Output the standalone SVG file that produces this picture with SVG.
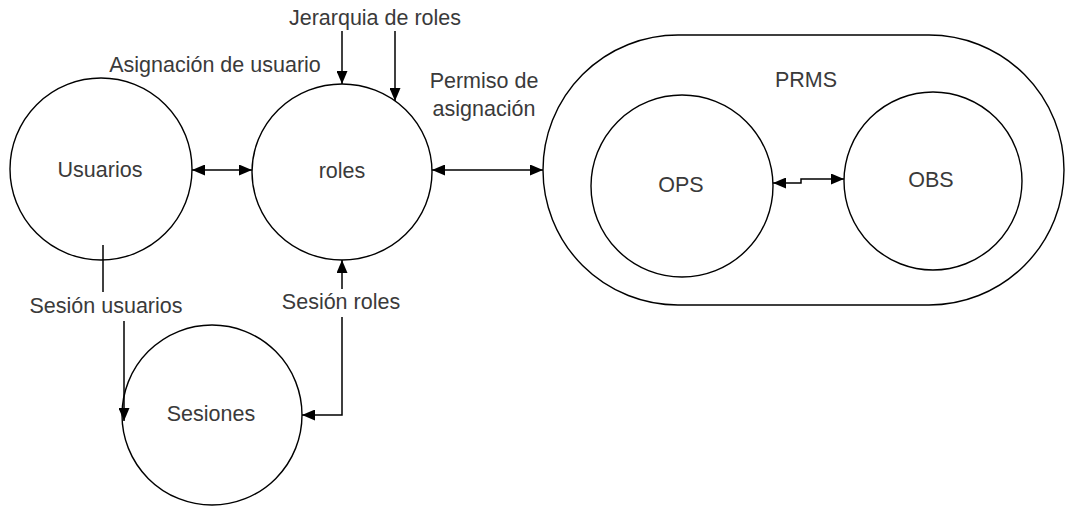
<svg xmlns="http://www.w3.org/2000/svg" width="1070" height="506" viewBox="0 0 1070 506">
  <style>
    .node { fill: #fff; stroke: #000; stroke-width: 1.4; }
    .lbl { font-family: "Liberation Sans", Arial, sans-serif; font-size: 21.5px; fill: #3a3a3a; text-anchor: middle; dominant-baseline: central; }
    .edge { fill: none; stroke: #000; stroke-width: 1.5; }
  </style>
  <defs>
    <marker id="arr" viewBox="0 0 13 11" refX="13" refY="5.5" markerWidth="13" markerHeight="11" markerUnits="userSpaceOnUse" orient="auto-start-reverse">
      <path d="M0,0 L13,5.5 L0,11 Z" fill="#000"/>
    </marker>
  </defs>
  <rect width="1070" height="506" fill="#fff"/>

  <g id="prms">
    <rect class="node" x="543" y="35" width="521" height="270" rx="135" ry="135"/>
    <text class="lbl" x="806" y="80">PRMS</text>
  </g>
  <g id="usuarios">
    <circle class="node" cx="101" cy="169" r="91"/>
    <text class="lbl" x="100" y="170">Usuarios</text>
  </g>
  <g id="roles">
    <ellipse class="node" cx="342" cy="172" rx="90" ry="88"/>
    <text class="lbl" x="342" y="171">roles</text>
  </g>
  <g id="sesiones">
    <circle class="node" cx="212" cy="415" r="90"/>
    <text class="lbl" x="211" y="414">Sesiones</text>
  </g>
  <g id="ops">
    <circle class="node" cx="682" cy="186" r="91"/>
    <text class="lbl" x="681" y="185">OPS</text>
  </g>
  <g id="obs">
    <circle class="node" cx="933" cy="181" r="89"/>
    <text class="lbl" x="931" y="180">OBS</text>
  </g>

  <g id="connectors">
    <!-- Usuarios <-> roles -->
    <line class="edge" x1="192" y1="170" x2="252" y2="170" marker-start="url(#arr)" marker-end="url(#arr)"/>
    <!-- roles <-> PRMS -->
    <line class="edge" x1="432" y1="170" x2="543" y2="170" marker-start="url(#arr)" marker-end="url(#arr)"/>
    <!-- OPS <-> OBS -->
    <polyline class="edge" points="773,183 801,183 801,179 844,179" marker-start="url(#arr)" marker-end="url(#arr)"/>
    <!-- role hierarchy -->
    <line class="edge" x1="342" y1="31" x2="342" y2="84" marker-end="url(#arr)"/>
    <line class="edge" x1="395" y1="31" x2="395" y2="101" marker-end="url(#arr)"/>
    <!-- user sessions -->
    <line class="edge" x1="103" y1="245" x2="103" y2="292"/>
    <line class="edge" x1="124" y1="321" x2="124" y2="421" marker-end="url(#arr)"/>
    <!-- role sessions -->
    <line class="edge" x1="342" y1="289" x2="342" y2="260" marker-end="url(#arr)"/>
    <polyline class="edge" points="342,317 342,415 302,415" marker-end="url(#arr)"/>
    <text class="lbl" x="375" y="18">Jerarquia de roles</text>
    <text class="lbl" x="215" y="65">Asignación de usuario</text>
    <text class="lbl" x="484" y="81">Permiso de</text>
    <text class="lbl" x="484" y="109">asignación</text>
    <text class="lbl" x="106" y="306">Sesión usuarios</text>
    <text class="lbl" x="341" y="302">Sesión roles</text>
  </g>
</svg>
